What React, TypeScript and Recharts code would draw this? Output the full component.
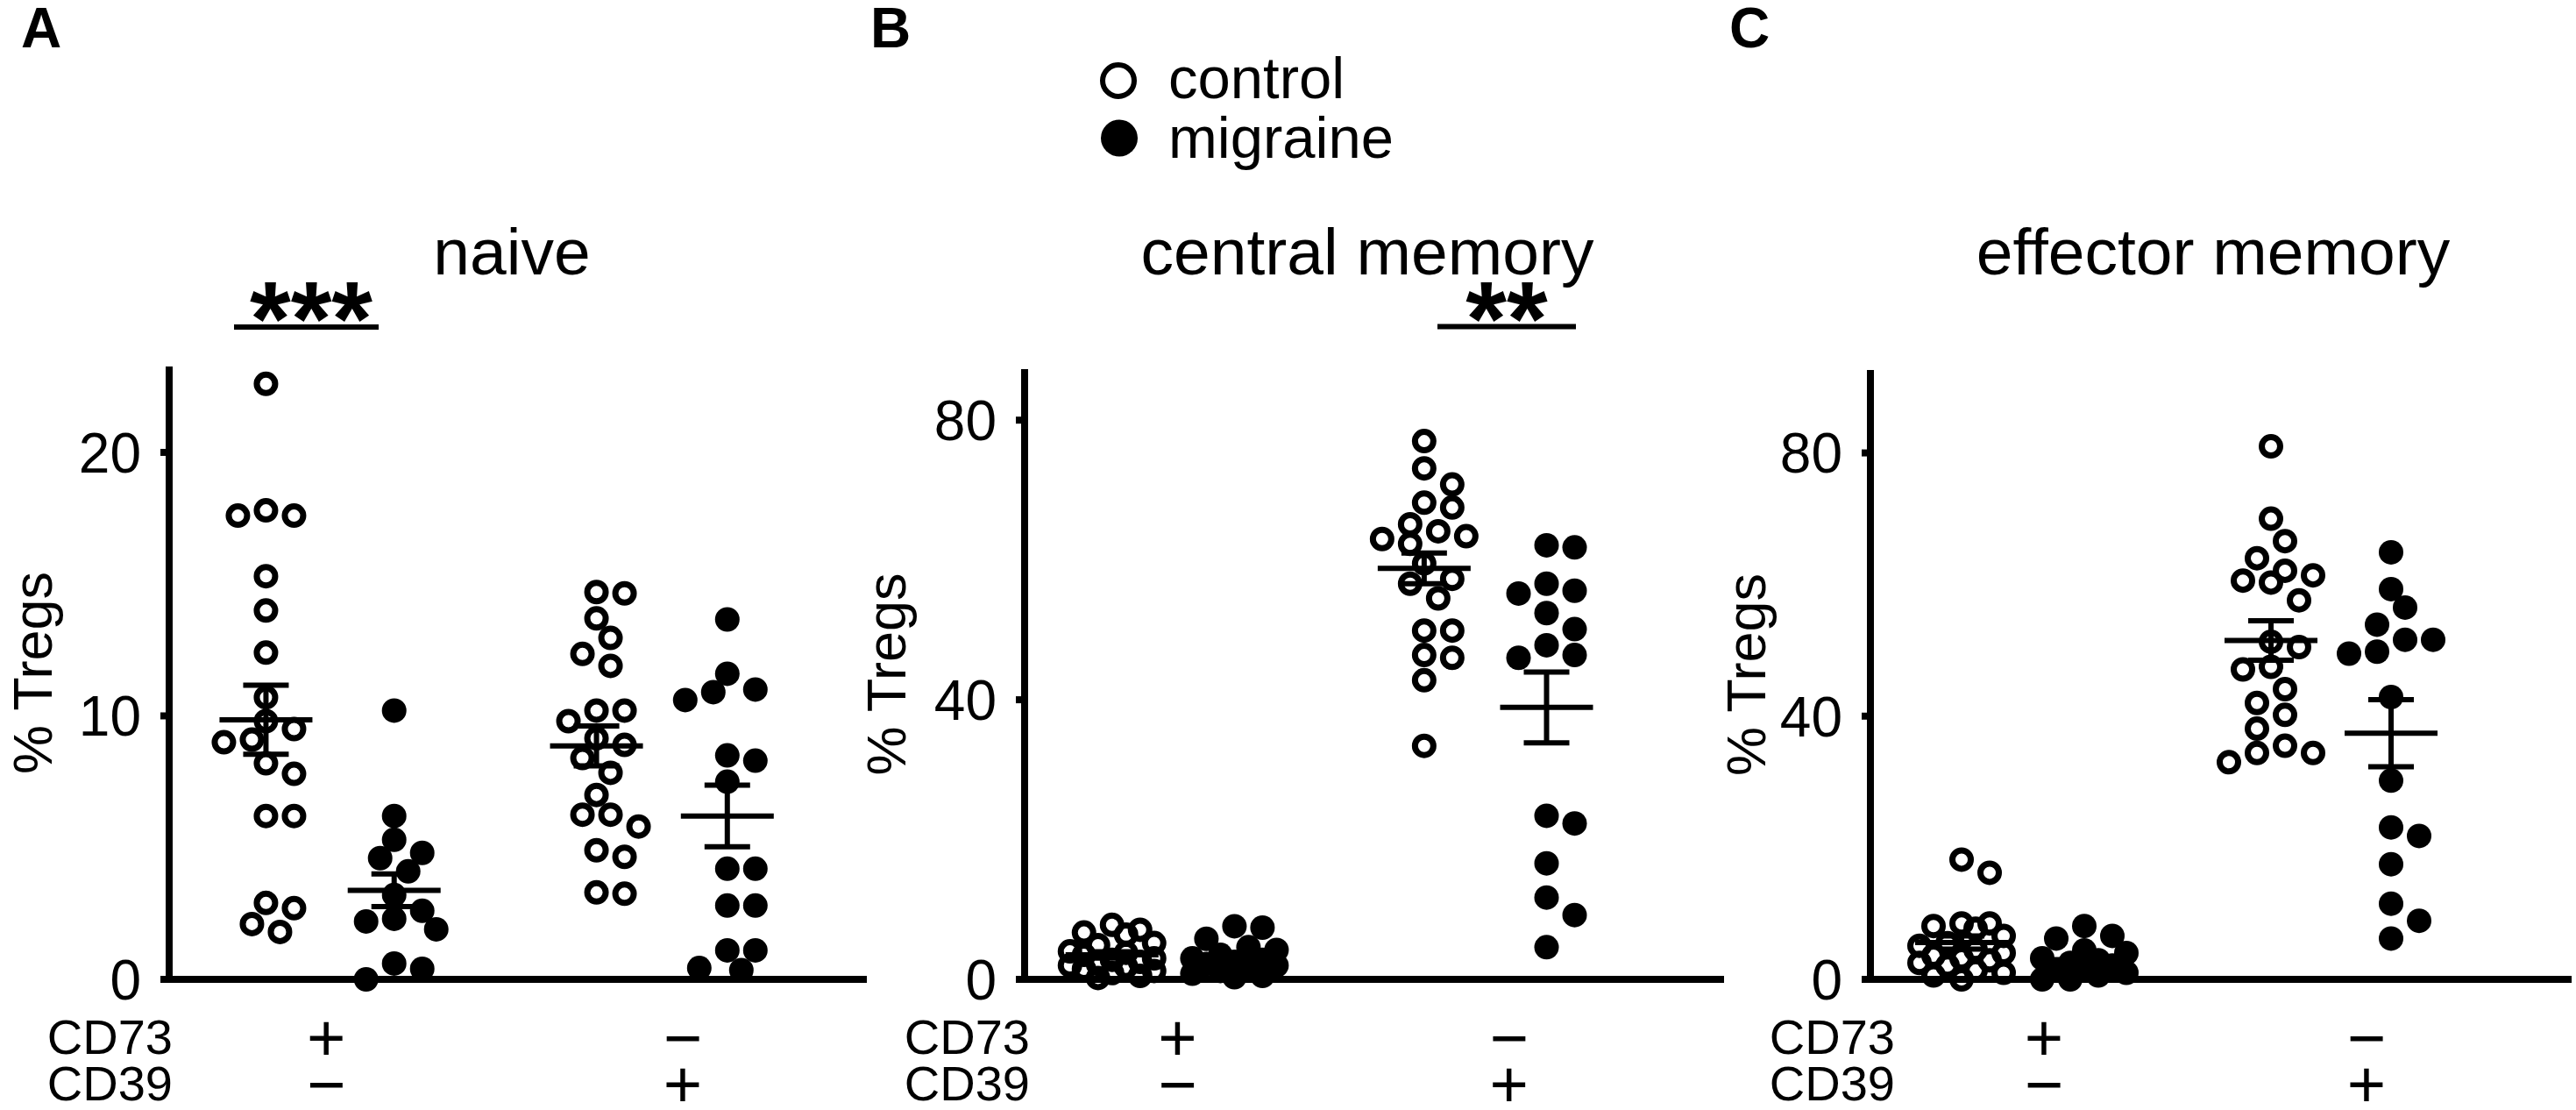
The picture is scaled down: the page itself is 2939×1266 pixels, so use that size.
import React from 'react';
import { ScatterChart, Scatter, XAxis, YAxis, ErrorBar } from 'recharts';

const FONT = '"Liberation Sans", Arial, Helvetica, sans-serif';

// row labels under the x axis (one column per CD73/CD39 combination)
const cd73Signs = ['+', '−'];
const cd39Signs = ['−', '+'];
const legendNames = ['control', 'migraine'];

// naive Tregs, % of Tregs
const naiveCtrlPos = [22.6, 17.8, 17.6, 17.6, 15.3, 14.0, 12.4, 10.7, 9.8, 9.5, 9.1, 9.0, 8.2, 7.8, 6.2, 6.2, 2.9, 2.7, 2.1, 1.8];
const naiveMigPos = [10.2, 6.2, 5.3, 4.8, 4.6, 4.1, 3.2, 2.6, 2.3, 2.2, 1.9, 0.6, 0.4, 0.0];
const naiveCtrlNeg = [14.7, 14.65, 13.7, 12.96, 12.35, 11.9, 10.2, 10.2, 9.8, 9.15, 8.9, 8.4, 7.84, 7.0, 6.25, 6.25, 5.8, 4.9, 4.65, 3.3, 3.25];
const naiveMigNeg = [13.66, 11.6, 11.0, 10.9, 10.6, 8.5, 8.3, 7.5, 4.2, 4.2, 2.8, 2.8, 1.1, 1.1, 0.43, 0.35];
const naiveMean = [9.85, 3.38, 8.86, 6.2];
const naiveSem = [1.31, 0.62, 0.76, 1.17];

// central memory Tregs
const centralCtrlPos = [7.8, 7.1, 6.7, 6.4, 5.2, 4.9, 4.0, 3.8, 3.5, 3.0, 2.8, 2.5, 2.2, 2.0, 1.8, 1.5, 1.2, 0.9, 0.5, 0.2];
const centralMigPos = [7.6, 7.4, 5.8, 4.6, 4.2, 3.5, 3.0, 2.8, 2.5, 2.2, 2.0, 1.6, 1.2, 0.8, 0.5, 0.3];
const centralCtrlNeg = [77, 73.1, 70.8, 68.2, 67.5, 65.1, 64.1, 63.4, 63.0, 62.3, 59.5, 57.3, 56.6, 54.5, 49.9, 49.9, 46.4, 46.0, 42.8, 33.4];
const centralMigNeg = [62.1, 61.8, 56.6, 55.6, 55.2, 52.4, 50.1, 47.8, 46.4, 46.0, 23.4, 22.3, 16.6, 11.7, 9.2, 4.6];
const centralMean = [3.5, 3.0, 58.8, 38.9];
const centralSem = [0.45, 0.45, 2.2, 5.05];

// effector memory Tregs
const effectorCtrlPos = [18.2, 16.2, 8.5, 8.5, 8.1, 7.7, 6.6, 5.5, 5.1, 4.5, 4.0, 3.6, 3.2, 2.9, 2.5, 2.1, 1.35, 1.0, 0.6, 0.0];
const effectorMigPos = [8.1, 6.6, 6.2, 4.4, 4.0, 3.2, 2.9, 2.5, 2.1, 1.7, 1.35, 1.0, 0.6, 0.0, 0.0];
const effectorCtrlNeg = [81, 70, 66.6, 64, 62.1, 61.4, 60.6, 60.3, 57.6, 51.3, 50.5, 47.5, 47.1, 44.1, 42, 40.2, 38.1, 35.5, 34.4, 34.4, 33];
const effectorMigNeg = [64.9, 59.3, 56.5, 53.9, 51.6, 51.6, 49.8, 49.5, 42.9, 30.2, 23.1, 21.8, 17.5, 11.5, 8.9, 6.2];
const effectorMean = [5.6, 3.0, 51.5, 37.4];
const effectorSem = [1.0, 0.5, 3.0, 5.1];

const PLOT_BOTTOM = 1117;
const X_SPAN = 8;

const panels = [
  {
    letter: 'A', letterX: 24, title: 'naive', titleX: 584,
    left: 192.5, top: 418, width: 796, yMax: 23.26, yTicks: [0, 10, 20],
    groupX: [1.11, 2.58, 4.9, 6.4], signX: [1.8, 5.89], labelDx: -156, cdDx: 4,
    groups: [naiveCtrlPos, naiveMigPos, naiveCtrlNeg, naiveMigNeg], mean: naiveMean, sem: naiveSem,
  },
  {
    letter: 'B', letterX: 993, title: 'central memory', titleX: 1560,
    left: 1168.5, top: 421, width: 798, yMax: 87.3, yTicks: [0, 40, 80],
    groupX: [1.0, 2.4, 4.57, 5.97], signX: [1.75, 5.54], labelDx: -158, cdDx: 6,
    groups: [centralCtrlPos, centralMigPos, centralCtrlNeg, centralMigNeg], mean: centralMean, sem: centralSem,
  },
  {
    letter: 'C', letterX: 1973, title: 'effector memory', titleX: 2525,
    left: 2134, top: 422, width: 800, yMax: 92.6, yTicks: [0, 40, 80],
    groupX: [1.04, 2.44, 4.57, 5.94], signX: [1.98, 5.66], labelDx: -142, cdDx: 28,
    groups: [effectorCtrlPos, effectorMigPos, effectorCtrlNeg, effectorMigNeg], mean: effectorMean, sem: effectorSem,
  },
];

// simple beeswarm: spread points of one group sideways (at most 3 steps) so they overlap less
function swarm(values: number[], center: number, pxX: number, pxY: number) {
  const steps = [0, 16, -16, 32, -32, 48, -48];
  const order = values.map((_, i) => i).sort((a, b) => values[b] - values[a]);
  const placed: { o: number; y: number }[] = [];
  const out: { x: number; y: number }[] = new Array(values.length);
  for (const i of order) {
    const yp = values[i] * pxY;
    let best = 0;
    let bestGap = -1;
    for (const o of steps) {
      let gap = Infinity;
      for (const q of placed) gap = Math.min(gap, Math.hypot(q.o - o, q.y - yp));
      if (gap >= 26) { best = o; break; }
      if (gap > bestGap) { bestGap = gap; best = o; }
    }
    placed.push({ o: best, y: yp });
    out[i] = { x: center + best / pxX, y: values[i] };
  }
  return out;
}

const OpenDot = (p: any) => <circle cx={p.cx} cy={p.cy} r={10.5} fill="none" stroke="#000" strokeWidth={7} />;
const FilledDot = (p: any) => <circle cx={p.cx} cy={p.cy} r={14} fill="#000" />;
const MeanBar = (p: any) => (
  <line x1={p.cx - 53} x2={p.cx + 53} y1={p.cy} y2={p.cy} stroke="#000" strokeWidth={6} />
);

const SignTick = (p: any) => {
  const i = p.index ?? p.payload?.index ?? 0;
  return (
    <g fontFamily={FONT} fontSize={76} fill="#000">
      <text x={p.x} y={p.y + 93} textAnchor="middle">{cd73Signs[i]}</text>
      <text x={p.x} y={p.y + 146} textAnchor="middle">{cd39Signs[i]}</text>
    </g>
  );
};

const Panel = ({ cfg }: { cfg: any }) => {
  const plotH = PLOT_BOTTOM - cfg.top;
  const pxX = cfg.width / X_SPAN;
  const pxY = plotH / cfg.yMax;
  const series = cfg.groups.map((vals: number[], g: number) => swarm(vals, cfg.groupX[g], pxX, pxY));
  const means = cfg.mean.map((m: number, g: number) => ({ x: cfg.groupX[g], y: m, sem: cfg.sem[g] }));

  const yLabel = (lp: any) => {
    const vb = lp.viewBox;
    const cx = vb.x + vb.width + cfg.labelDx;
    const cy = vb.y + vb.height / 2;
    return (
      <text x={cx} y={cy} transform={`rotate(-90, ${cx}, ${cy})`} textAnchor="middle" dominantBaseline="central"
        fontFamily={FONT} fontSize={63} fill="#000">% Tregs</text>
    );
  };
  const xLabel = (lp: any) => {
    const vb = lp.viewBox;
    return (
      <g fontFamily={FONT} fontSize={56} fill="#000">
        <text x={vb.x + cfg.cdDx} y={vb.y + 85} textAnchor="end">CD73</text>
        <text x={vb.x + cfg.cdDx} y={vb.y + 138} textAnchor="end">CD39</text>
      </g>
    );
  };

  return (
    <div style={{ position: 'absolute', left: cfg.left - 200, top: cfg.top - 20 }}>
      <ScatterChart width={200 + cfg.width + 10} height={20 + plotH + 149} margin={{ top: 20, right: 10, bottom: 0, left: 0 }}>
        <XAxis type="number" dataKey="x" domain={[0, X_SPAN]} ticks={cfg.signX} interval={0} height={149}
          axisLine={{ stroke: '#000', strokeWidth: 8 }} tickLine={false} tickSize={0} tickMargin={0}
          tick={<SignTick />} label={{ content: xLabel }} />
        <YAxis type="number" dataKey="y" domain={[0, cfg.yMax]} ticks={cfg.yTicks} interval={0} width={200}
          axisLine={{ stroke: '#000', strokeWidth: 8 }} tickLine={{ stroke: '#000', strokeWidth: 8 }} tickSize={10}
          tickMargin={22} tick={{ fill: '#000', fontSize: 64, fontFamily: FONT }} label={{ content: yLabel }} />
        <Scatter data={series[0]} shape={OpenDot} isAnimationActive={false} />
        <Scatter data={series[2]} shape={OpenDot} isAnimationActive={false} />
        <Scatter data={series[1]} shape={FilledDot} isAnimationActive={false} />
        <Scatter data={series[3]} shape={FilledDot} isAnimationActive={false} />
        <Scatter data={means} shape={MeanBar} isAnimationActive={false}>
          <ErrorBar dataKey="sem" direction="y" width={26} stroke="#000" strokeWidth={6} isAnimationActive={false} />
        </Scatter>
      </ScatterChart>
    </div>
  );
};

export default function App() {
  return (
    <div style={{ position: 'absolute', left: 0, top: 0, width: 2939, height: 1266, overflow: 'hidden', background: '#fff' }}>
      {panels.map((p) => <Panel key={p.letter} cfg={p} />)}
      <svg width={2939} height={1266} style={{ position: 'absolute', left: 0, top: 0, pointerEvents: 'none' }}
        fontFamily={FONT} fill="#000">
        {panels.map((p) => (
          <g key={p.letter}>
            <text x={p.letterX} y={54} fontSize={64} fontWeight="bold">{p.letter}</text>
            <text x={p.titleX} y={313} fontSize={75} textAnchor="middle">{p.title}</text>
          </g>
        ))}
        {/* legend */}
        <circle cx={1276} cy={92} r={18} fill="none" stroke="#000" strokeWidth={6} />
        <circle cx={1277} cy={157.5} r={21} fill="#000" />
        <text x={1333} y={112} fontSize={67}>{legendNames[0]}</text>
        <text x={1333} y={180} fontSize={67}>{legendNames[1]}</text>
        {/* significance */}
        <text x={355} y={405} fontSize={120} fontWeight="bold" textAnchor="middle">***</text>
        <line x1={267} x2={432} y1={373} y2={373} stroke="#000" strokeWidth={6} />
        <text x={1719} y={405} fontSize={120} fontWeight="bold" textAnchor="middle">**</text>
        <line x1={1640} x2={1798} y1={372.5} y2={372.5} stroke="#000" strokeWidth={6} />
      </svg>
    </div>
  );
}
